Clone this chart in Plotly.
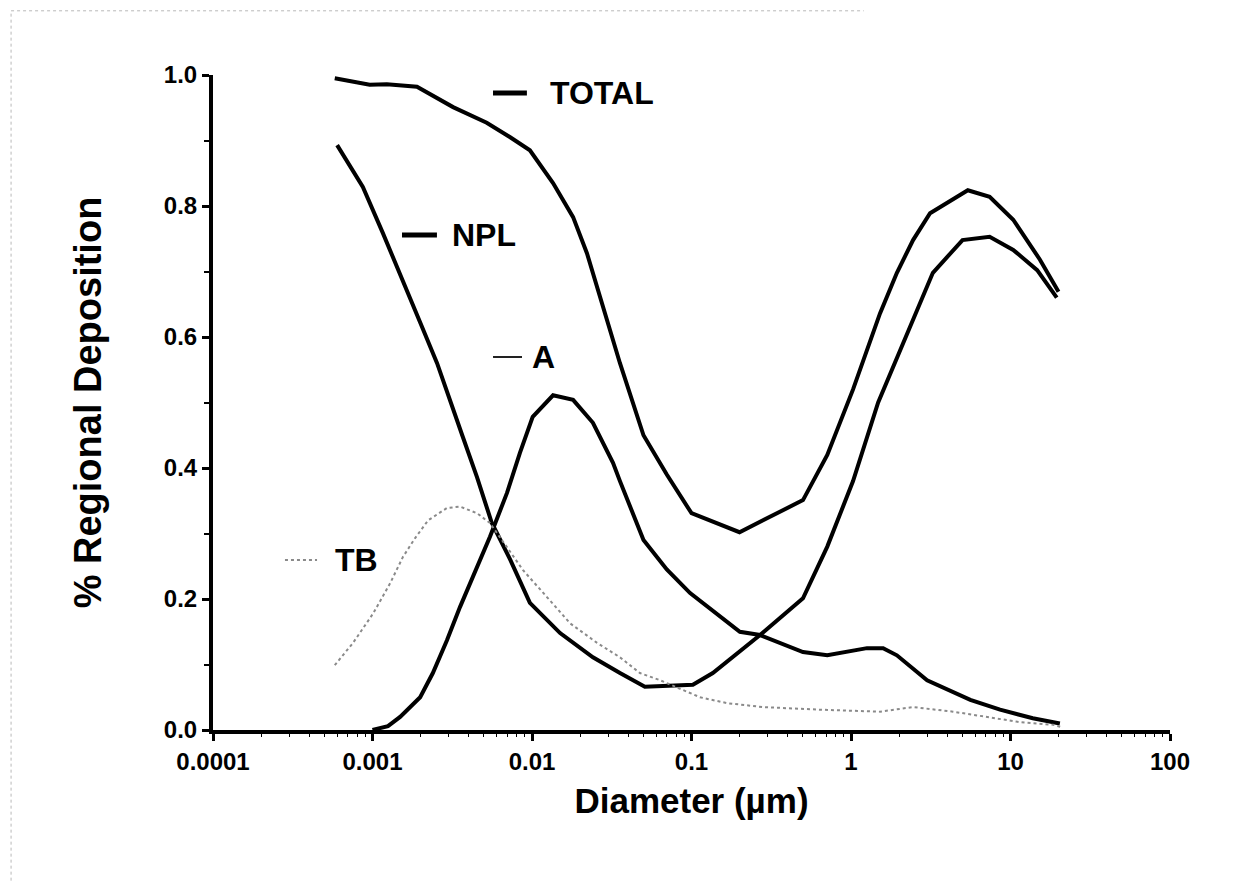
import plotly.graph_objects as go

# ---- data ----
total_x = [0.00058, 0.00096, 0.00123, 0.0019, 0.0032, 0.0052, 0.0073, 0.0097, 0.01355, 0.0181, 0.0221,
           0.0356, 0.05, 0.07, 0.1, 0.2, 0.5, 0.71, 1.03, 1.52, 1.94, 2.45, 3.13, 5.4, 7.4, 10.4, 15.3, 20]
total_y = [0.995, 0.985, 0.986, 0.982, 0.951, 0.927, 0.905, 0.885, 0.835, 0.783, 0.728,
           0.56, 0.45, 0.39, 0.331, 0.302, 0.351, 0.42, 0.52, 0.636, 0.698, 0.748, 0.789, 0.824, 0.814, 0.779, 0.718, 0.669]

npl_x = [0.0006, 0.00087, 0.00116, 0.00155, 0.002, 0.00254, 0.00339, 0.00369, 0.00452, 0.0056, 0.0073,
         0.0097, 0.015, 0.0241, 0.0356, 0.051, 0.102, 0.136, 0.269, 0.5, 0.71, 1.03, 1.48, 2.45, 3.26, 5.0, 7.4, 10.4, 14.7, 19.5]
npl_y = [0.893, 0.829, 0.759, 0.687, 0.621, 0.56, 0.469, 0.447, 0.386, 0.316, 0.26,
         0.194, 0.148, 0.111, 0.087, 0.066, 0.069, 0.087, 0.145, 0.201, 0.28, 0.38, 0.5, 0.626, 0.698, 0.748, 0.753, 0.733, 0.702, 0.66]

a_x = [0.001, 0.00125, 0.00149, 0.00199, 0.00239, 0.00293, 0.00354, 0.00452, 0.00545, 0.00697, 0.0084, 0.0101,
       0.01355, 0.0181, 0.0241, 0.0322, 0.0356, 0.05, 0.07, 0.098, 0.201, 0.269, 0.5, 0.71, 1.26, 1.59, 1.94,
       3.0, 5.6, 8.6, 13.8, 20.4]
a_y = [0.0, 0.006, 0.02, 0.05, 0.087, 0.137, 0.188, 0.249, 0.295, 0.362, 0.423, 0.478,
       0.511, 0.504, 0.469, 0.408, 0.38, 0.29, 0.245, 0.209, 0.15, 0.145, 0.119, 0.114, 0.125, 0.125, 0.114,
       0.076, 0.046, 0.031, 0.018, 0.01]

tb_x = [0.00058, 0.000755, 0.00101, 0.00129, 0.00155, 0.00185, 0.00223, 0.00293, 0.00354, 0.00452, 0.00545,
        0.00879, 0.0124, 0.0173, 0.0256, 0.0356, 0.0475, 0.0635, 0.113, 0.167, 0.281, 0.64, 1.52, 2.45, 4.36,
        7.1, 11.5, 18.5, 20.5]
tb_y = [0.099, 0.133, 0.178, 0.224, 0.264, 0.293, 0.32, 0.339, 0.341, 0.331, 0.316,
        0.244, 0.203, 0.163, 0.133, 0.111, 0.087, 0.076, 0.05, 0.041, 0.035, 0.031, 0.028, 0.035, 0.028,
        0.02, 0.012, 0.008, 0.005]

x_tickvals = [0.0001, 0.001, 0.01, 0.1, 1, 10, 100]
x_ticktext = ["0.0001", "0.001", "0.01", "0.1", "1", "10", "100"]
y_tickvals = [0.0, 0.2, 0.4, 0.6, 0.8, 1.0]
y_ticktext = ["0.0", "0.2", "0.4", "0.6", "0.8", "1.0"]

series_labels = ["TOTAL", "NPL", "A", "TB"]

FONT = "Liberation Sans"

fig = go.Figure()
fig.add_trace(go.Scatter(x=total_x, y=total_y, mode="lines", name=series_labels[0],
                         line=dict(color="#000000", width=4)))
fig.add_trace(go.Scatter(x=npl_x, y=npl_y, mode="lines", name=series_labels[1],
                         line=dict(color="#000000", width=4)))
fig.add_trace(go.Scatter(x=a_x, y=a_y, mode="lines", name=series_labels[2],
                         line=dict(color="#000000", width=4)))
fig.add_trace(go.Scatter(x=tb_x, y=tb_y, mode="lines", name=series_labels[3],
                         line=dict(color="#8a8a8a", width=2, dash="dot")))

# in-plot labels: line sample + text (paper coordinates)
label_style = [
    # x0, x1, y, text_x, line width, dash, color
    (0.2926, 0.328, 0.9725, 0.350, 5, "solid", "#000000"),
    (0.1975, 0.234, 0.7557, 0.2476, 5, "solid", "#000000"),
    (0.2926, 0.3229, 0.5695, 0.3312, 2, "solid", "#222222"),
    (0.0752, 0.1087, 0.2595, 0.1254, 2, "dot", "#8a8a8a"),
]
for txt, (x0, x1, yy, tx, lw, dash, col) in zip(series_labels, label_style):
    fig.add_shape(type="line", xref="paper", yref="paper", x0=x0, x1=x1, y0=yy, y1=yy,
                  line=dict(color=col, width=lw, dash=dash))
    fig.add_annotation(xref="paper", yref="paper", x=tx, y=yy, text=txt, showarrow=False,
                       xanchor="left", yanchor="middle",
                       font=dict(family=FONT, size=32, color="#000000", weight="bold"))

# faint scan border (top and left)
fig.add_shape(type="line", xref="paper", yref="paper", x0=-0.211, x1=0.68, y0=1.098, y1=1.098,
              line=dict(color="#b8b8b8", width=1, dash="dot"))
fig.add_shape(type="line", xref="paper", yref="paper", x0=-0.211, x1=-0.211, y0=-0.23, y1=1.098,
              line=dict(color="#b8b8b8", width=1, dash="dot"))

fig.update_layout(
    width=1234, height=882,
    margin=dict(l=205, r=72, t=67, b=160),
    paper_bgcolor="white", plot_bgcolor="white",
    showlegend=False,
    font=dict(family=FONT, color="#000000"),
    xaxis=dict(
        type="log", range=[-4, 2],
        tickvals=x_tickvals, ticktext=x_ticktext,
        tickfont=dict(family=FONT, size=24, color="#000000", weight="bold"),
        ticks="outside", ticklen=7, tickwidth=3, tickcolor="#000000",
        showline=True, linecolor="#000000", linewidth=4,
        showgrid=False, zeroline=False,
        minor=dict(ticks="outside", ticklen=3, tickwidth=1, tickcolor="#000000",
                   tickvals=[m * 10 ** e for e in range(-4, 2) for m in range(2, 10)], showgrid=False),
        title=dict(text="Diameter (µm)", font=dict(family=FONT, size=35, color="#000000", weight="bold"),
                   standoff=16),
    ),
    yaxis=dict(
        range=[0, 1],
        tickvals=y_tickvals, ticktext=y_ticktext,
        tickfont=dict(family=FONT, size=24, color="#000000", weight="bold"),
        ticks="outside", ticklen=7, tickwidth=3, tickcolor="#000000",
        showline=True, linecolor="#000000", linewidth=4,
        showgrid=False, zeroline=False,
        minor=dict(ticks="outside", ticklen=5, tickwidth=2, tickcolor="#000000",
                   tickvals=[0.1, 0.3, 0.5, 0.7, 0.9], showgrid=False),
        title=dict(text="% Regional Deposition", font=dict(family=FONT, size=38, color="#000000", weight="bold"),
                   standoff=52),
    ),
)

fig.write_html("out.html")
